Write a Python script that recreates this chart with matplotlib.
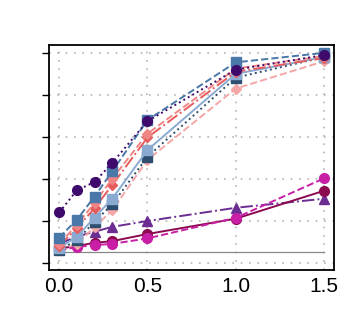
import matplotlib
matplotlib.use("Agg")
import matplotlib.pyplot as plt

plt.rcParams['font.family'] = ['Liberation Sans', 'DejaVu Sans']

x = [0.0, 0.1, 0.2, 0.3, 0.5, 1.0, 1.5]

# series values
navy_sq = [0.06, 0.108, 0.195, 0.278, 0.505, 0.882, 0.98]
pale_pink = [0.06, 0.09, 0.17, 0.25, 0.49, 0.83, 0.96]
light_blue_sq = [0.07, 0.125, 0.215, 0.305, 0.537, 0.90, 0.98]
red_dia = [0.08, 0.165, 0.26, 0.37, 0.597, 0.91, 0.975]
salmon_dia = [0.09, 0.18, 0.285, 0.40, 0.615, 0.925, 0.985]
blue_sq = [0.12, 0.205, 0.315, 0.435, 0.68, 0.955, 1.0]
triangle = [0.09, 0.125, 0.148, 0.171, 0.199, 0.262, 0.305]
dark_mag = [0.068, 0.08, 0.095, 0.103, 0.137, 0.21, 0.343]
magenta = [0.06, 0.075, 0.084, 0.09, 0.116, 0.214, 0.402]
purple_circ = [0.24, 0.345, 0.385, 0.475, 0.675, 0.92, 0.99]
baseline = 0.05

xticks = [0.0, 0.5, 1.0, 1.5]
xtick_labels = ["0.0", "0.5", "1.0", "1.5"]
yticks = [0.0, 0.2, 0.4, 0.6, 0.8, 1.0]

fig = plt.figure(figsize=(3.6, 3.27), dpi=100)
ax = fig.add_axes([0.136, 0.174, 0.792, 0.688])

ax.axhline(baseline, xmin=0.036, xmax=0.964, color='#888888', lw=0.9, zorder=1)

ms = 7
lw = 1.4
ax.plot(x, triangle, color='#6b2d92', ls='-.', lw=lw, marker='^', ms=ms, zorder=2)
ax.plot(x, dark_mag, color='#8c0a50', ls='-', lw=lw, marker='o', ms=ms, zorder=2)
ax.plot(x, magenta, color='#c81fa6', ls='--', lw=lw, marker='o', ms=ms, zorder=2)
ax.plot(x, pale_pink, color='#f5a6a6', ls='--', lw=lw, marker='D', ms=5.5, zorder=2)
ax.plot(x, navy_sq, color='#2e4e6f', ls=':', lw=lw, marker='s', ms=ms, zorder=2)
ax.plot(x, light_blue_sq, color='#8aaad2', ls='-', lw=lw, marker='s', ms=ms, zorder=2)
ax.plot(x, red_dia, color='#e65b5b', ls='-.', lw=lw, marker='D', ms=5.5, zorder=2)
ax.plot(x, salmon_dia, color='#f08585', ls='--', lw=lw, marker='D', ms=5.5, zorder=2)
ax.plot(x, blue_sq, color='#4a78a9', ls='--', lw=lw, marker='s', ms=ms, zorder=2)
ax.plot(x, purple_circ, color='#3e0b6d', ls=':', lw=lw, marker='o', ms=ms, zorder=3)

ax.set_xlim(-0.058, 1.557)
ax.set_ylim(-0.035, 1.037)
ax.set_xticks(xticks)
ax.set_xticklabels(xtick_labels, fontsize=15)
ax.set_yticks(yticks)
ax.set_yticklabels([])
ax.tick_params(axis='x', length=0, pad=5)
ax.tick_params(axis='y', length=5, width=1)

ax.grid(True, color='#b5b5b5', ls=(0, (1, 4)), lw=1.2)
ax.set_axisbelow(True)
for s in ax.spines.values():
    s.set_linewidth(1.3)
    s.set_color('black')

fig.savefig("out.png", dpi=100)
